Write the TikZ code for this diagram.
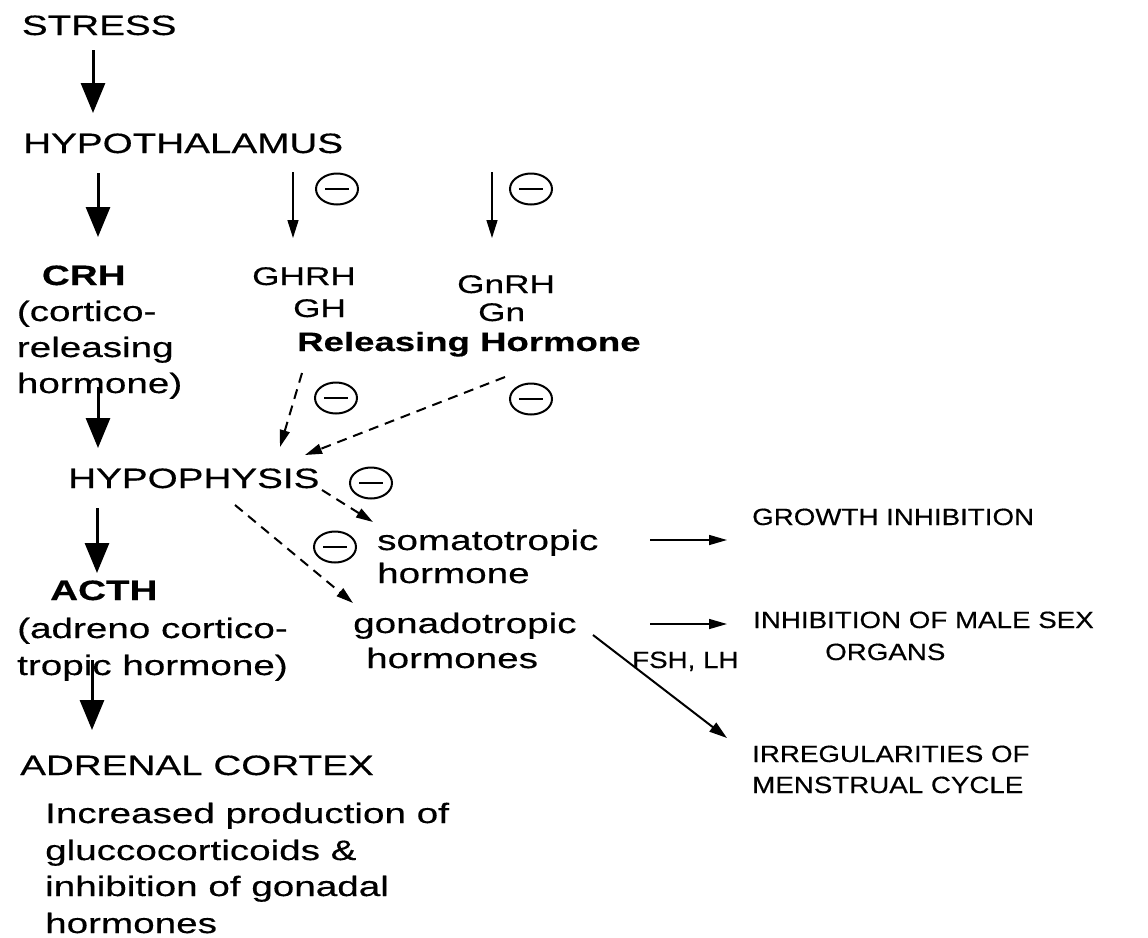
\documentclass[tikz,border=0pt]{standalone}
\usepackage{fontspec}
\usetikzlibrary{arrows.meta,shapes.geometric}
\newfontfamily\mf[FakeStretch=1.38,FakeBold=0.4]{Liberation Sans}
\newfontfamily\rf[FakeStretch=1.18,FakeBold=0.4]{Liberation Sans}
\begin{document}
\begin{tikzpicture}[x=1pt,y=-1pt,
  txt/.style={anchor=base west,inner sep=0pt,font=\mf\fontsize{28}{34}\selectfont},
  txtb/.style={txt,font=\mf\fontsize{28}{34}\selectfont\bfseries},
  gtxt/.style={anchor=base west,inner sep=0pt,font=\mf\fontsize{25.5}{30}\selectfont},
  gtxtb/.style={anchor=base west,inner sep=0pt,font=\mf\fontsize{26.5}{30}\selectfont\bfseries},
  rtxt/.style={anchor=base west,inner sep=0pt,font=\rf\fontsize{23.5}{28}\selectfont},
  minus/.style={ellipse,draw,line width=2pt,minimum width=42pt,minimum height=31pt,inner sep=0pt,
    path picture={\draw[line width=2.8pt] ([xshift=-12pt]path picture bounding box.center) -- ([xshift=12pt]path picture bounding box.center);}},
  bigarrow/.style={line width=3pt,-{Triangle[length=30pt,width=24pt]}},
  thinarrow/.style={line width=1.5pt,-{Triangle[length=18pt,width=11pt]}},
  dasharrow/.style={line width=2pt,dash pattern=on 10pt off 7pt,-{Triangle[length=17pt,width=10pt]}},
  rarrow/.style={line width=1.5pt,-{Triangle[length=18pt,width=10pt]}}]
\useasboundingbox[fill=white] (0,0) rectangle (1148,937);

% left column
\node[txt] (stress) at (21.7,35) {STRESS};
\node[txt] (hypoth) at (23,153) {HYPOTHALAMUS};
\node[txtb] (crh) at (41.7,285) {CRH};
\node[txt] (crh2) at (16.7,321) {(cortico-};
\node[txt] (crh3) at (16.7,357) {releasing};
\node[txt] (crh4) at (16.7,393) {hormone)};
\node[txt] (hypoph) at (68,488) {HYPOPHYSIS};
\node[txtb] (acth) at (50,600) {ACTH};
\node[txt] (adreno1) at (17,638) {(adreno cortico-};
\node[txt] (adreno2) at (17,675) {tropic hormone)};
\node[txt] (adrenal) at (20,775) {ADRENAL CORTEX};
\node[txt] (inc1) at (45,823) {Increased production of};
\node[txt] (inc2) at (45,860) {gluccocorticoids \&};
\node[txt] (inc3) at (45,896) {inhibition of gonadal};
\node[txt] (inc4) at (45,933) {hormones};

% middle
\node[gtxt] (ghrh) at (252,285) {GHRH};
\node[gtxt] (gh) at (293,317) {GH};
\node[gtxt] (gnrh) at (457,293) {GnRH};
\node[gtxt] (gn) at (478,321) {Gn};
\node[gtxtb] (rh) at (297,351) {Releasing Hormone};
\node[txt] (soma) at (377,550) {somatotropic};
\node[txt] (soma2) at (377,583) {hormone};
\node[txt] (gonado) at (353,633) {gonadotropic};
\node[txt] (gonado2) at (366,668) {hormones};

% right
\node[rtxt] (growth) at (752,525) {GROWTH INHIBITION};
\node[rtxt] (inhib) at (753,628) {INHIBITION OF MALE SEX};
\node[rtxt] (organs) at (825,660) {ORGANS};
\node[rtxt] (fsh) at (632,668) {FSH, LH};
\node[rtxt] (irreg) at (752,762) {IRREGULARITIES OF};
\node[rtxt] (menstr) at (752,793) {MENSTRUAL CYCLE};

% circled minus signs
\node[minus] (m1) at (337,189) {};
\node[minus] (m2) at (531,189) {};
\node[minus] (m3) at (336,398) {};
\node[minus] (m4) at (531,399) {};
\node[minus] (m5) at (371,483) {};
\node[minus] (m6) at (335,547) {};

% thick arrows
\draw[bigarrow] ([xshift=71.3pt,yshift=-15pt]stress.base west) -- ([xshift=70pt,yshift=40pt]hypoth.base west);
\draw[bigarrow] ([xshift=75pt,yshift=-20pt]hypoth.base west) -- ([xshift=56.3pt,yshift=48pt]crh.base west);
\draw[bigarrow] ([xshift=81.3pt,yshift=6pt]crh4.base west) -- ([xshift=30pt,yshift=40pt]hypoph.base west);
\draw[bigarrow] ([xshift=29pt,yshift=-20pt]hypoph.base west) -- ([xshift=47pt,yshift=27pt]acth.base west);
\draw[bigarrow] ([xshift=75pt,yshift=15pt]adreno2.base west) -- ([xshift=72pt,yshift=45pt]adrenal.base west);

% thin arrows
\draw[thinarrow] ([xshift=270pt,yshift=-19pt]hypoth.base west) -- ([xshift=41pt,yshift=47pt]ghrh.base west);
\draw[thinarrow] ([xshift=469pt,yshift=-19pt]hypoth.base west) -- ([xshift=35pt,yshift=55pt]gnrh.base west);

% dashed arrows
\draw[dasharrow] ([xshift=5pt,yshift=-22pt]rh.base west) -- ([xshift=212pt,yshift=41pt]hypoph.base west);
\draw[dasharrow] ([xshift=208pt,yshift=-26pt]rh.base west) -- ([xshift=237pt,yshift=33pt]hypoph.base west);
\draw[dasharrow] ([xshift=254pt,yshift=-2pt]hypoph.base west) -- ([xshift=-4pt,yshift=28pt]soma.base west);
\draw[dasharrow] ([xshift=167pt,yshift=-17pt]hypoph.base west) -- ([xshift=0pt,yshift=30pt]gonado.base west);

% right arrows
\draw[rarrow] ([xshift=273pt,yshift=10pt]soma.base west) -- ([xshift=-25pt,yshift=-15pt]growth.base west);
\draw[rarrow] ([xshift=297pt,yshift=9pt]gonado.base west) -- ([xshift=-26pt,yshift=4pt]inhib.base west);
\draw[line width=2pt,-{Triangle[length=18pt,width=11pt]}] ([xshift=240pt,yshift=-2pt]gonado.base west) -- ([xshift=-25pt,yshift=24pt]irreg.base west);
\end{tikzpicture}
\end{document}
